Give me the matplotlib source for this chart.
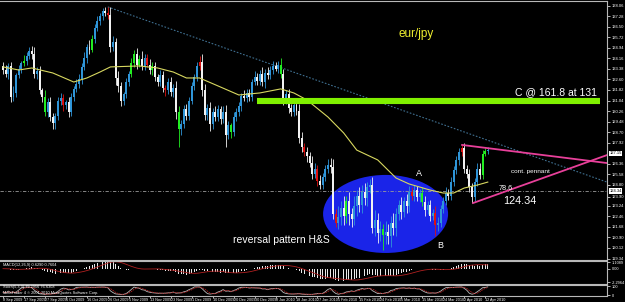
import numpy as np
import pandas as pd
import matplotlib
matplotlib.use("Agg")
import matplotlib.pyplot as plt
from matplotlib.patches import Ellipse
import matplotlib.transforms as mtransforms

plt.rcParams['font.family'] = ['Liberation Sans', 'DejaVu Sans']

# ---------------- data (daily EUR/JPY, one value per bar) ----------------
closes = [
    133.3, 133.0, 133.6, 131.3, 131.6, 132.9, 133.4, 133.8, 134.0, 134.3,
    134.7, 134.5, 133.0, 133.2, 131.8, 131.3, 130.2, 130.9, 129.8, 129.4,
    129.9, 131.0, 131.2, 130.7, 130.9, 130.2, 131.3, 131.9, 132.3, 132.6,
    133.5, 134.2, 135.0, 134.8, 135.6, 136.4, 136.9, 137.3, 137.7, 137.5,
    137.4, 135.0, 135.4, 132.7, 132.1, 131.0, 131.5, 132.4, 133.0, 133.8,
    134.5, 133.7, 134.1, 133.6, 134.2, 133.7, 133.3, 133.6, 132.8, 132.4,
    132.9, 132.0, 131.8, 132.4, 131.7, 132.0, 130.2, 128.9, 129.3, 130.4,
    129.9, 131.0, 132.1, 132.8, 133.6, 133.9, 131.8, 130.0, 130.5, 129.3,
    130.2, 129.8, 130.4, 129.7, 130.2, 128.5, 129.2, 128.7, 129.8, 130.2,
    130.6, 131.4, 131.2, 131.6, 131.3, 132.4, 132.8, 132.5, 133.0, 132.4,
    133.1, 132.9, 133.3, 133.6, 133.4, 133.7, 133.0, 131.1, 131.5, 130.5,
    130.2, 130.7, 130.3, 128.3, 127.6, 127.2, 126.9, 126.4, 125.6, 126.0,
    125.1, 124.8, 125.4, 126.0, 126.3, 126.1, 122.6, 122.0, 122.4, 123.1,
    122.5, 123.6, 122.6, 122.3, 123.2, 124.0, 123.3, 124.3, 123.8, 124.6,
    124.8, 121.6, 122.2, 121.2, 121.5, 121.1, 121.3, 121.0, 122.0, 121.6,
    122.6, 123.3, 122.8, 123.6, 123.2, 124.3, 124.0, 124.4, 123.9, 124.2,
    123.5, 122.9, 123.3, 122.5, 122.7, 121.8, 122.0, 123.0, 123.6, 124.2,
    124.0, 125.0, 125.9, 126.6, 127.2, 127.5, 126.0, 125.6, 124.6, 123.9,
    125.0, 126.0, 125.5, 127.1, 127.3, 127.4,
]
up_wick = [
    0.3, 0.4, 0.2, 0.3, 0.5, 0.2, 0.3, 0.2, 0.4, 0.3,
    0.3, 0.4, 0.5, 0.3, 0.4, 0.2, 0.5, 0.3, 0.4, 0.3,
    0.2, 0.3, 0.4, 0.3, 0.2, 0.4, 0.3, 0.2, 0.3, 0.4,
    0.3, 0.4, 0.2, 0.5, 0.3, 0.3, 0.4, 0.2, 0.2, 0.3,
    0.5, 0.6, 0.4, 0.3, 0.5, 0.3, 0.2, 0.3, 0.2, 0.4,
    0.3, 0.4, 0.3, 0.6, 0.3, 0.3, 0.4, 0.3, 0.3, 0.2,
    0.4, 0.3, 0.2, 0.3, 0.4, 0.3, 0.5, 0.4, 0.3, 0.3,
    0.4, 0.3, 0.3, 0.2, 0.3, 0.4, 0.6, 0.5, 0.3, 0.4,
    0.3, 0.4, 0.3, 0.2, 0.4, 0.5, 0.3, 0.2, 0.4, 0.3,
    0.3, 0.2, 0.4, 0.3, 0.3, 0.2, 0.4, 0.3, 0.3, 0.5,
    0.3, 0.4, 0.3, 0.4, 0.3, 0.3, 0.5, 0.4, 0.3, 0.4,
    0.3, 0.4, 0.3, 0.5, 0.4, 0.3, 0.4, 0.3, 0.5, 0.4,
    0.3, 0.4, 0.3, 0.3, 0.4, 0.5, 0.6, 0.4, 0.8, 0.5,
    0.9, 0.4, 0.7, 0.5, 0.8, 0.4, 0.6, 0.5, 0.6, 0.4,
    0.4, 0.6, 0.7, 0.5, 0.6, 0.4, 0.8, 0.6, 0.5, 0.7,
    0.5, 0.4, 0.6, 0.3, 0.5, 0.4, 0.3, 0.4, 0.3, 0.3,
    0.4, 0.5, 0.3, 0.4, 0.3, 0.5, 0.4, 0.3, 0.3, 0.4,
    0.3, 0.4, 0.3, 0.3, 0.3, 0.25, 0.4, 0.3, 0.4, 0.3,
    0.3, 0.4, 0.4, 0.3, 0.2, 0.2,
]
down_wick = [
    0.3, 0.2, 0.4, 0.4, 0.3, 0.3, 0.2, 0.3, 0.2, 0.3,
    0.2, 0.4, 0.3, 0.4, 0.3, 0.4, 0.3, 0.4, 0.3, 0.5,
    0.5, 0.3, 0.3, 0.4, 0.3, 0.4, 0.3, 0.3, 0.2, 0.3,
    0.3, 0.2, 0.4, 0.3, 0.2, 0.3, 0.2, 0.3, 0.3, 0.2,
    0.3, 0.4, 0.3, 0.5, 0.4, 0.4, 0.3, 0.3, 0.3, 0.2,
    0.3, 0.3, 0.2, 0.3, 0.3, 0.2, 0.3, 0.4, 0.3, 0.3,
    0.3, 0.3, 0.4, 0.3, 0.3, 0.4, 0.5, 1.3, 0.4, 0.3,
    0.3, 0.3, 0.2, 0.3, 0.3, 0.3, 0.4, 0.4, 0.4, 0.5,
    0.4, 0.3, 0.3, 0.4, 0.3, 0.9, 0.3, 0.4, 0.3, 0.3,
    0.3, 0.3, 0.2, 0.3, 0.3, 0.3, 0.2, 0.3, 0.3, 0.3,
    0.4, 0.3, 0.3, 0.3, 0.2, 0.3, 0.3, 0.4, 0.3, 0.4,
    0.3, 0.3, 0.3, 0.4, 0.4, 0.3, 0.4, 0.3, 0.4, 0.3,
    0.4, 0.3, 0.3, 0.3, 0.3, 0.4, 0.3, 0.3, 0.5, 0.6,
    0.7, 0.5, 0.8, 0.6, 0.5, 0.7, 0.5, 0.6, 0.5, 0.6,
    0.4, 0.4, 0.6, 0.7, 0.6, 1.1, 0.7, 0.6, 0.8, 0.5,
    0.6, 0.4, 0.5, 0.4, 0.5, 0.4, 0.3, 0.4, 0.3, 0.4,
    0.3, 0.4, 0.3, 0.4, 0.3, 0.8, 0.4, 0.3, 0.3, 0.3,
    0.3, 0.3, 0.3, 0.3, 0.3, 0.3, 0.3, 0.3, 0.3, 0.45,
    0.3, 0.3, 0.3, 0.3, 0.2, 0.2,
]
green_bars = [8, 16, 34, 49, 50, 52, 57, 67, 87, 106, 131, 145, 160, 183, 184]
red_bars = [23, 40, 55, 62, 75, 115, 120, 127, 156, 165, 175]

# yellow moving average, read at sample bars
ma_bars = [0, 6, 11, 19, 27, 32, 37, 41, 52, 59, 65, 70, 75, 83, 90, 98, 106,
           111, 116, 124, 130, 135, 143, 150, 155, 163, 168, 172, 176, 181, 185]
ma_vals = [133.53, 133.30, 133.45, 133.08, 132.41, 132.71, 133.15, 133.53, 133.60,
           133.45, 133.15, 132.71, 132.71, 132.04, 131.45, 131.60, 131.90, 131.60,
           131.08, 129.82, 128.64, 127.37, 126.64, 125.30, 124.86, 124.41, 124.19,
           124.19, 124.56, 124.78, 125.00]

# annotation levels
level_c = 131.0
level_786 = 124.34
current_price = 127.15
trend_bars = [40, 230.5]
trend_vals = [137.97, 125.0]
pennant_top_bars = [175.2, 230.5]
pennant_top_vals = [127.75, 126.41]
pennant_bot_bars = [179.4, 230.5]
pennant_bot_vals = [123.45, 127.0]

price_ticks = [138.06, 137.28, 136.50, 135.72, 134.94, 134.16, 133.38, 132.60,
               131.82, 131.04, 130.26, 129.48, 128.70, 127.92, 126.36,
               125.58, 124.80, 123.90, 123.24, 122.46, 121.68, 120.90, 120.12, 119.34]
date_bars = [0, 8, 16, 24, 32, 40, 48, 56, 64, 72, 80, 88, 96, 104, 112, 120,
             128, 136, 144, 152, 160, 168, 176, 184]
date_labels = ["8 Sep 2009", "17 Sep 2009", "27 Sep 2009", "6 Oct 2009", "16 Oct 2009",
               "26 Oct 2009", "5 Nov 2009", "13 Nov 2009", "23 Nov 2009", "1 Dec 2009",
               "10 Dec 2009", "20 Dec 2009", "30 Dec 2009", "8 Jan 2010", "18 Jan 2010",
               "27 Jan 2010", "5 Feb 2010", "15 Feb 2010", "24 Feb 2010", "5 Mar 2010",
               "15 Mar 2010", "24 Mar 2010", "2 Apr 2010", "12 Apr 2010"]

# ---------------- derived ----------------
c = np.array(closes)
o = np.concatenate([[closes[0] + 0.3], c[:-1]])
hi = np.maximum(o, c) + np.array(up_wick)
lo = np.minimum(o, c) - np.array(down_wick)
idx = np.arange(len(c))

cols = []
for i in idx:
    if i in green_bars:
        cols.append('#22ee22')
    elif i in red_bars:
        cols.append('#dd1111')
    elif c[i] >= o[i]:
        cols.append('#2f95d8')
    else:
        cols.append('#f2f2f2')

s = pd.Series(c)
macd = s.ewm(span=12, adjust=False).mean() - s.ewm(span=26, adjust=False).mean()
signal = macd.rolling(9, min_periods=1).mean()
hh = pd.Series(hi).rolling(5, min_periods=1).max()
ll = pd.Series(lo).rolling(5, min_periods=1).min()
num = (s - ll).rolling(3, min_periods=1).sum()
den = (hh - ll).rolling(3, min_periods=1).sum()
stk = 100 * num / den
std = stk.rolling(3, min_periods=1).mean()

# ---------------- figure ----------------
W, H = 625, 302
fig = plt.figure(figsize=(W / 100, H / 100), dpi=100, facecolor='black')


def box(x0, y0, x1, y1):
    return [x0 / W, 1 - y1 / H, (x1 - x0) / W, (y1 - y0) / H]


XL = (-1.15, 230.5)
grey = '#b8b8b8'
ax = fig.add_axes(box(0, 1, 607, 260), facecolor='black')
ax.set_xlim(*XL)
ax.set_ylim(119.23, 138.41)

# ellipse (H&S)
ax.add_patch(Ellipse((146, 122.64), 47.7, 5.78, facecolor='#1a24e8', edgecolor='none', zorder=1))

# candles
ax.vlines(idx, lo, hi, colors=cols, linewidth=0.6, zorder=3)
body_h = np.where(np.abs(c - o) < 0.05, 0.05, np.abs(c - o))
ax.bar(idx, body_h, bottom=np.minimum(o, c), width=0.75, color=cols, linewidth=0, zorder=4)

# moving average
ax.plot(ma_bars, ma_vals, color='#d8d860', linewidth=0.8, zorder=5)

# levels and trend lines
ax.axhline(level_786, color='#9a9a9a', linewidth=0.6, linestyle=(0, (4, 2, 1, 2)), zorder=2)
ax.plot([97, 227.9], [level_c, level_c], color='#80f000', linewidth=4.4,
        solid_capstyle='butt', zorder=6)
ax.plot(trend_bars, trend_vals, color='#3f6f90', linewidth=0.8, linestyle=(0, (1.5, 1.5)), zorder=2)
ax.plot(pennant_top_bars, pennant_top_vals, color='#e8409a', linewidth=1.3, zorder=6)
ax.plot(pennant_bot_bars, pennant_bot_vals, color='#e8409a', linewidth=1.3, zorder=6)

# texts
ax.text(150.8, 136.0, "eur/jpy", color='#f0f030', fontsize=8.5, va='center', ha='left', zorder=7)
ax.text(226.7, 131.67, "C @ 161.8 at 131", color='white', fontsize=7.5, va='center', ha='right', zorder=7)
ax.text(87.8, 120.71, "reversal pattern H&S", color='white', fontsize=7.5, va='center', ha='left', zorder=7)
ax.text(158.8, 125.67, "A", color='white', fontsize=6.5, va='center', ha='center', zorder=7)
ax.text(166.8, 120.27, "B", color='white', fontsize=6.5, va='center', ha='center', zorder=7)
ax.text(193.9, 125.82, "cont. pennant", color='white', fontsize=4.6, va='center', ha='left', zorder=7)
ax.text(189.3, 124.49, "78.6", color='white', fontsize=5.2, va='center', ha='left', zorder=7)
ax.text(190.8, 123.6, "124.34", color='white', fontsize=7.8, va='center', ha='left', zorder=7)

# right price scale
ax.yaxis.tick_right()
ax.set_yticks(price_ticks)
ax.set_yticklabels([f"{v:.2f}" for v in price_ticks])
ax.tick_params(axis='y', colors='white', labelsize=3.0, length=2, width=0.5, pad=1.5)
ax.set_xticks([])
for sp in ax.spines.values():
    sp.set_color(grey)
    sp.set_linewidth(0.8)
ax.spines['left'].set_visible(False)
tr = mtransforms.blended_transform_factory(ax.transAxes, ax.transData)
for val in [current_price, level_786]:
    ax.text(1.004, val, f"{val:.2f}", transform=tr, fontsize=3.0, color='black', va='center', ha='left',
            bbox=dict(facecolor='white', edgecolor='none', pad=0.4), clip_on=False, zorder=8)

# MACD panel
ax2 = fig.add_axes(box(0, 261, 607, 284), facecolor='black')
ax2.set_xlim(*XL)
ax2.set_ylim(-2.6, 1.3)
ax2.bar(idx, macd, width=0.35, color='#e8e8e8', linewidth=0)
ax2.plot(idx, signal, color='#b02020', linewidth=0.6)
ax2.set_xticks([])
ax2.yaxis.tick_right()
ax2.set_yticks([1.1089, 0.0, -2.2964])
ax2.set_yticklabels(["1.1089", "0.00", "-2.2964"])
ax2.tick_params(axis='y', colors='white', labelsize=2.8, length=2, width=0.5, pad=1.5)
for sp in ax2.spines.values():
    sp.set_color(grey)
    sp.set_linewidth(0.8)
ax2.spines['left'].set_visible(False)
ax2.text(0.005, 0.9, "MACD(12,26,9) 0.6290 0.7604", transform=ax2.transAxes, color='white',
         fontsize=2.8, va='top', ha='left')

# Stochastic panel
ax3 = fig.add_axes(box(0, 285, 607, 296), facecolor='black')
ax3.set_xlim(*XL)
ax3.set_ylim(-10, 115)
ax3.plot(idx, stk, color='#b8b8b8', linewidth=0.6)
ax3.plot(idx, std, color='#b02020', linewidth=0.6, linestyle=(0, (2, 1)))
ax3.yaxis.tick_right()
ax3.set_yticks([100, 0])
ax3.set_yticklabels(["100", "0"])
ax3.tick_params(axis='y', colors='white', labelsize=2.8, length=2, width=0.5, pad=1.5)
ax3.set_xticks(date_bars)
ax3.set_xticklabels(date_labels, ha='left')
ax3.tick_params(axis='x', colors='white', labelsize=2.7, length=1.2, width=0.5, pad=0.3)
for sp in ax3.spines.values():
    sp.set_color(grey)
    sp.set_linewidth(0.8)
ax3.spines['left'].set_visible(False)
ax3.text(0.005, 0.98, "Stoch(5,3,3) 79.2956 76.6308", transform=ax3.transAxes, color='white',
         fontsize=2.8, va='top', ha='left')
ax3.text(0.005, 0.45, "MetaTrader 4 \u00a9 2001-2010 MetaQuotes Software Corp.", transform=ax3.transAxes,
         color='white', fontsize=2.8, va='top', ha='left')

fig.savefig("out.png", dpi=100, facecolor='black')
